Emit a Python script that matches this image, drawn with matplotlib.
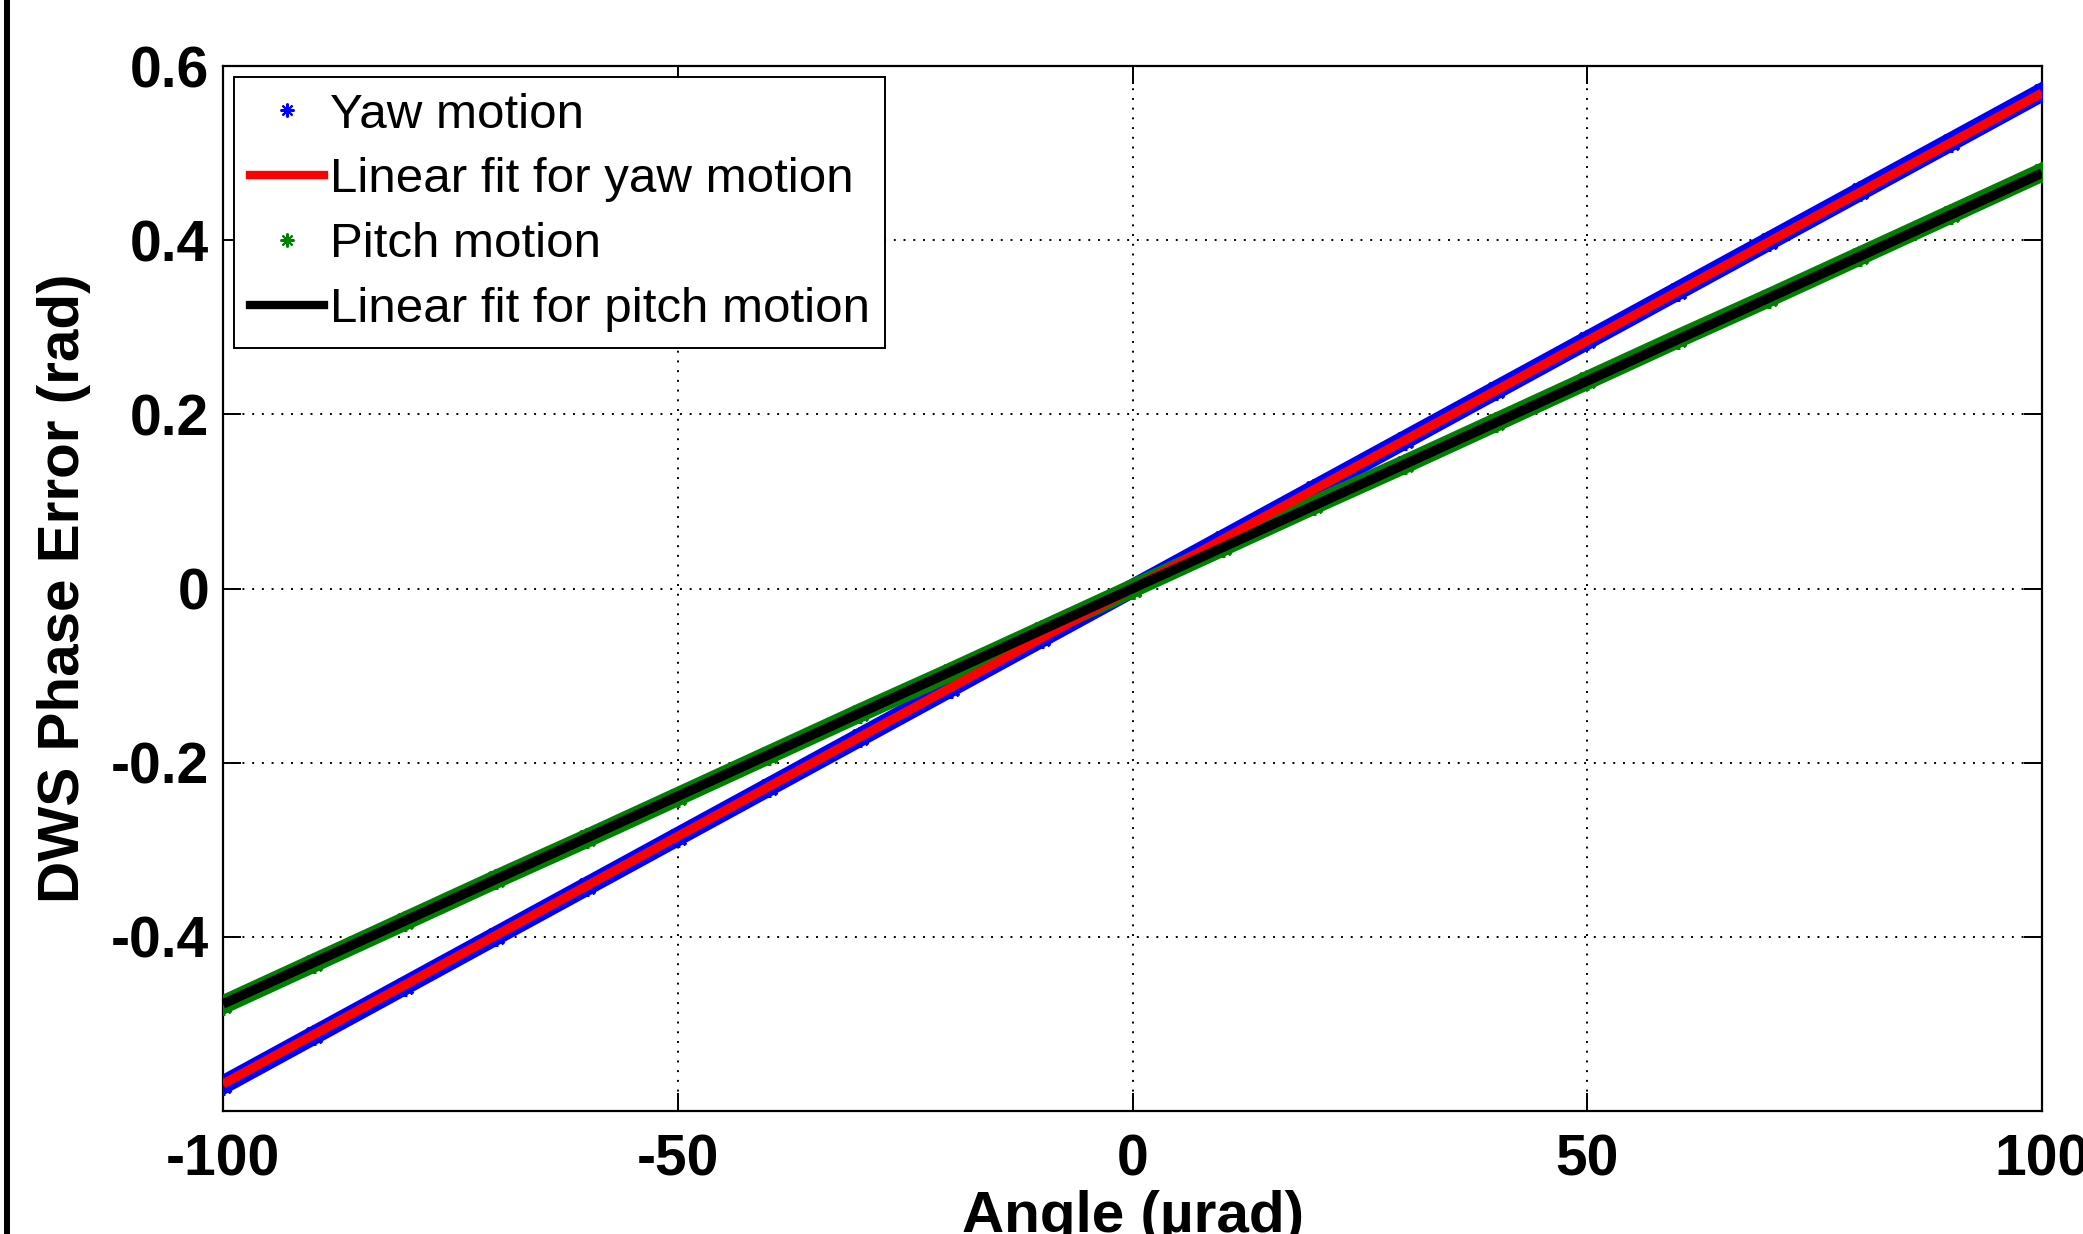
import matplotlib
matplotlib.use("Agg")
import matplotlib.pyplot as plt
from matplotlib.lines import Line2D
from matplotlib.patches import Rectangle

# ---- data ----
angle = [-100, -90, -80, -70, -60, -50, -40, -30, -20, -10, 0,
         10, 20, 30, 40, 50, 60, 70, 80, 90, 100]
yaw = [-0.570, -0.513, -0.456, -0.399, -0.342, -0.285, -0.228, -0.171, -0.114, -0.057, 0.000,
       0.057, 0.114, 0.171, 0.228, 0.285, 0.342, 0.399, 0.456, 0.513, 0.570]
pitch = [-0.478, -0.430, -0.382, -0.334, -0.287, -0.239, -0.191, -0.143, -0.096, -0.048, 0.000,
         0.048, 0.096, 0.143, 0.191, 0.239, 0.287, 0.334, 0.382, 0.430, 0.478]
fit_angle = [-100, 100]
yaw_fit = [-0.569, 0.569]
pitch_fit = [-0.477, 0.477]

xticks = [-100, -50, 0, 50, 100]
yticks = [-0.4, -0.2, 0, 0.2, 0.4, 0.6]
ytick_labels = ["-0.4", "-0.2", "0", "0.2", "0.4", "0.6"]
xtick_labels = ["-100", "-50", "0", "50", "100"]
labels = ["Yaw motion", "Linear fit for yaw motion", "Pitch motion", "Linear fit for pitch motion"]

plt.rcParams['font.family'] = ['Liberation Sans', 'DejaVu Sans']

BLUE = (0, 0, 1)
GREEN = (0, 0.5, 0)
RED = (1, 0, 0)
AST = (8, 2, 0)  # MATLAB-like asterisk marker

W, H = 2083, 1234
fig = plt.figure(figsize=(W / 100, H / 100), dpi=100)
ax = fig.add_axes([223 / W, 1 - 1111 / H, (2042 - 223) / W, (1111 - 66) / H])

# measured data: thick bands of asterisks
ax.plot(angle, yaw, color=BLUE, lw=13.5, marker=AST, ms=15, mew=2.5, mec=BLUE, zorder=3)
ax.plot(angle, pitch, color=GREEN, lw=13.5, marker=AST, ms=15, mew=2.5, mec=GREEN, zorder=3)
# linear fits
ax.plot(fit_angle, yaw_fit, color=RED, lw=6.5, zorder=4, solid_capstyle='butt')
ax.plot(fit_angle, pitch_fit, color='black', lw=7, zorder=4, solid_capstyle='butt')

ax.set_xlim(-100, 100)
ax.set_ylim(-0.6, 0.6)
ax.set_xticks(xticks)
ax.set_xticklabels(xtick_labels)
ax.set_yticks(yticks)
ax.set_yticklabels(ytick_labels)

ax.grid(True, color='black', linestyle=(0, (1, 4)), linewidth=1.4)
ax.set_axisbelow(True)
for s in ax.spines.values():
    s.set_linewidth(1.6)
ax.tick_params(direction='in', length=13, width=1.4, top=True, right=True,
               labelsize=41, pad=10)
for lab in ax.get_xticklabels() + ax.get_yticklabels():
    lab.set_fontweight('bold')
ax.tick_params(axis='x', pad=16)

ax.set_ylabel("DWS Phase Error (rad)", fontsize=42, fontweight='bold', labelpad=14)
ax.set_xlabel("Angle (\u00b5rad)", fontsize=42, fontweight='bold', labelpad=2)

handles = [
    Line2D([], [], color=BLUE, marker=AST, ls='none', ms=10, mew=1.5),
    Line2D([], [], color=RED, lw=6),
    Line2D([], [], color=GREEN, marker=AST, ls='none', ms=10, mew=1.5),
    Line2D([], [], color='black', lw=6),
]
leg = ax.legend(handles, labels, loc='upper left', fontsize=35.5, frameon=True,
                fancybox=False, framealpha=1, edgecolor='black',
                handlelength=1.5, handletextpad=0.12, labelspacing=0.4,
                borderpad=0.32, borderaxespad=0.22)
leg.get_frame().set_linewidth(1.4)
leg.set_zorder(10)

# left border line of the original figure
fig.add_artist(Rectangle((4 / W, 0), 6 / W, 1, transform=fig.transFigure,
                         color='black', lw=0))

fig.savefig("out.png", dpi=100)
